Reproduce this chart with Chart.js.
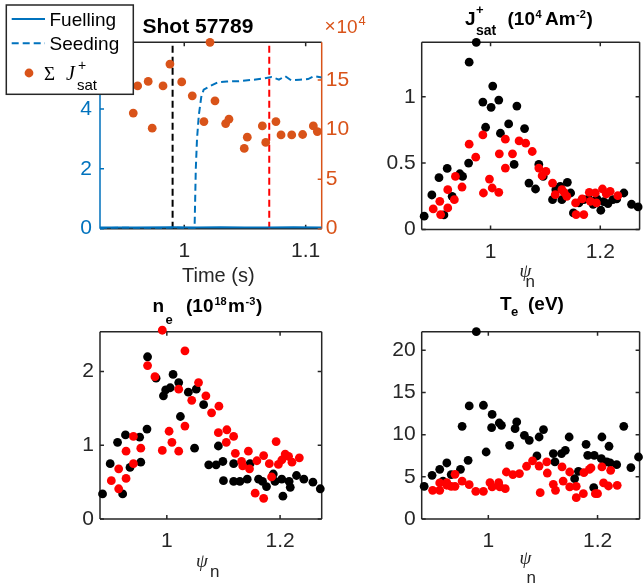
<!DOCTYPE html>
<html>
<head>
<meta charset="utf-8">
<script src="https://cdn.jsdelivr.net/npm/chart.js@4.4.1/dist/chart.umd.min.js"></script>
<style>
  body { margin: 0; background: #fff; }
  #wrap { position: relative; width: 644px; height: 585px; }
  #wrap canvas { position: absolute; left: 0; top: 0; }
</style>
</head>
<body>
<div id="wrap">
  <canvas id="c1" width="644" height="585"></canvas>
  <canvas id="c2" width="644" height="585"></canvas>
  <canvas id="c3" width="644" height="585"></canvas>
  <canvas id="c4" width="644" height="585"></canvas>
</div>
<script>
'use strict';

// ---- panel 1: shot 57789 time traces ----
const timeTicks = [1, 1.1];
const fuelTicks = [0, 2, 4, 6];
const jsumTicks = [0, 5, 10, 15];
const timeRange = [0.9306, 1.1132];
const fuelRange = [0, 6.23];
const jsumRange = [0, 18.8];

const fuelT = [0.9306, 0.96, 0.99, 1.01, 1.03, 1.05, 1.07, 1.09, 1.1132];
const fuelV = [0.04, 0.04, 0.05, 0.04, 0.05, 0.04, 0.04, 0.05, 0.04];

const seedT = [0.9306, 0.95, 0.97, 0.99, 1.0085, 1.009, 1.0095, 1.0105, 1.012, 1.014, 1.016, 1.022, 1.028,
               1.035, 1.045, 1.055, 1.065, 1.072, 1.078, 1.083, 1.088, 1.095, 1.102, 1.107, 1.1132];
const seedV = [0.02, 0.03, 0.02, 0.03, 0.02, 1.0, 2.0, 3.0, 3.8, 4.4, 4.65, 4.78, 4.9,
               4.92, 4.93, 4.97, 5.02, 5.07, 4.98, 5.1, 4.96, 4.98, 5.0, 5.1, 5.05];

// sum of Jsat, x10^4
const jsumT = [0.958, 0.9616, 0.9703, 0.9736, 0.9825, 0.9882, 0.9979, 1.0066, 1.0162, 1.0212, 1.0253, 1.0341,
               1.0368, 1.0494, 1.0519, 1.0643, 1.0671, 1.0755, 1.0797, 1.0885, 1.0975, 1.1063, 1.1096];
const jsumV = [11.66, 14.4, 14.85, 10.14, 14.4, 16.6, 14.8, 13.4, 10.8, 18.8, 12.9, 10.6,
               11.05, 8.1, 9.23, 10.37, 8.7, 10.8, 9.46, 9.46, 9.5, 10.37, 9.8];

// profile times marked on the trace (black, red)
const eventT = [0.9904, 1.0700];
const eventColors = ['#000000', '#ff0000'];

// ---- profiles vs psi_n (K = black, R = red) ----
const psiTicks = [1, 1.2];

const jsatTicks = [0, 0.5, 1];
const jsatPsiK = [0.879, 0.893, 0.906, 0.915, 0.921, 0.930, 0.944, 0.949, 0.960, 0.961, 0.974, 0.986, 0.991,
                  1.001, 1.004, 1.015, 1.018, 1.033, 1.043, 1.048, 1.062, 1.070, 1.082, 1.088, 1.096, 1.113,
                  1.119, 1.127, 1.130, 1.140, 1.146, 1.151, 1.161, 1.170, 1.179, 1.187, 1.194, 1.201, 1.206,
                  1.214, 1.223, 1.230, 1.243, 1.257, 1.269];
const jsatK    = [0.10, 0.26, 0.39, 0.11, 0.46, 0.25, 0.42, 0.40, 0.50, 1.26, 1.41, 0.96, 0.77,
                  0.92, 1.08, 0.975, 0.725, 0.795, 0.49, 0.93, 0.76, 0.35, 0.305, 0.49, 0.40, 0.225,
                  0.30, 0.325, 0.225, 0.355, 0.275, 0.125, 0.20, 0.225, 0.23, 0.19, 0.23, 0.145, 0.21,
                  0.195, 0.225, 0.23, 0.275, 0.19, 0.17];
const jsatPsiR = [0.8955, 0.9075, 0.909, 0.922, 0.922, 0.934, 0.936, 0.948, 0.961, 0.973, 0.986, 0.987, 0.998,
                  1.003, 1.015, 1.016, 1.027, 1.027, 1.040, 1.052, 1.064, 1.076, 1.088, 1.094, 1.101, 1.113,
                  1.118, 1.130, 1.134, 1.139, 1.155, 1.156, 1.167, 1.170, 1.180, 1.182, 1.191, 1.193, 1.204,
                  1.211, 1.218, 1.232];
const jsatR    = [0.155, 0.2125, 0.1125, 0.30, 0.1625, 0.225, 0.40, 0.32, 0.6425, 0.545, 0.7125, 0.275, 0.38,
                  0.3125, 0.28, 0.57, 0.68, 0.4625, 0.57, 0.6675, 0.65, 0.5875, 0.4625, 0.405, 0.4375, 0.35,
                  0.2625, 0.30, 0.28, 0.25, 0.20, 0.1125, 0.23, 0.1125, 0.28, 0.2125, 0.275, 0.20, 0.305,
                  0.2675, 0.2875, 0.255];

const neTicks = [0, 1, 2];
const nePsiK = [0.8865, 0.900, 0.913, 0.922, 0.927, 0.935, 0.952, 0.954, 0.965, 0.966, 0.981, 0.994, 0.998,
                1.006, 1.011, 1.021, 1.024, 1.038, 1.049, 1.052, 1.065, 1.074, 1.087, 1.091, 1.099, 1.100,
                1.118, 1.118, 1.129, 1.142, 1.147, 1.162, 1.169, 1.176, 1.188, 1.191, 1.203, 1.205, 1.216,
                1.218, 1.229, 1.242, 1.258, 1.271];
const neK    = [0.34, 0.75, 1.04, 0.34, 1.14, 0.70, 1.11, 0.77, 1.22, 2.20, 1.91, 1.67, 1.75,
                1.78, 1.96, 1.85, 1.39, 1.72, 0.96, 1.76, 1.55, 0.735, 0.735, 0.99, 0.78, 0.52,
                0.75, 0.51, 0.51, 0.54, 0.75, 0.54, 0.51, 0.44, 0.61, 0.51, 0.54, 0.31, 0.51,
                0.43, 0.59, 0.54, 0.50, 0.41];
const nePsiR = [0.902, 0.915, 0.915, 0.928, 0.928, 0.941, 0.941, 0.954, 0.966, 0.979, 0.992, 0.992, 1.004,
                1.009, 1.021, 1.021, 1.032, 1.032, 1.044, 1.056, 1.069, 1.079, 1.092, 1.091, 1.105, 1.106,
                1.118, 1.121, 1.132, 1.134, 1.144, 1.146, 1.156, 1.159, 1.171, 1.171, 1.181, 1.185, 1.193,
                1.197, 1.203, 1.209, 1.215, 1.221, 1.234];
const neR    = [0.52, 0.68, 0.41, 0.55, 0.92, 1.12, 0.75, 0.96, 2.08, 1.93, 2.56, 0.93, 1.19,
                1.04, 1.76, 0.92, 1.26, 2.28, 1.61, 1.85, 1.67, 1.44, 1.53, 1.17, 1.04, 1.21,
                1.12, 0.89, 0.78, 0.72, 0.92, 0.68, 0.35, 0.79, 0.28, 0.86, 0.75, 0.57, 1.05,
                0.74, 0.80, 0.88, 0.85, 0.77, 0.83];

const teTicks = [0, 5, 10, 15, 20];
const tePsiK = [0.8825, 0.897, 0.911, 0.917, 0.924, 0.932, 0.949, 0.952, 0.963, 0.965, 0.978, 0.991, 0.996,
                1.006, 1.007, 1.020, 1.024, 1.039, 1.049, 1.052, 1.066, 1.075, 1.089, 1.093, 1.101, 1.119,
                1.122, 1.134, 1.141, 1.148, 1.158, 1.165, 1.179, 1.182, 1.193, 1.194, 1.207, 1.208, 1.217,
                1.221, 1.223, 1.235, 1.248, 1.261, 1.275];
const teK    = [3.87, 5.18, 5.89, 4.5, 6.64, 5.26, 5.89, 10.99, 6.96, 13.4, 22.2, 13.48, 7.94,
                10.83, 12.4, 11.38, 11.1, 8.73, 10.71, 11.5, 9.92, 9.33, 7.47, 9.72, 10.6, 7.75,
                6.76, 7.75, 8.14, 9.72, 4.78, 5.65, 8.85, 7.55, 3.72, 7.55, 7.15, 9.72, 6.76,
                8.62, 6.64, 6.44, 10.99, 6.09, 7.35];
const tePsiR = [0.898, 0.911, 0.911, 0.924, 0.924, 0.932, 0.939, 0.939, 0.952, 0.965, 0.977, 0.991, 1.003,
                1.007, 1.019, 1.021, 1.033, 1.031, 1.045, 1.057, 1.070, 1.081, 1.093, 1.095, 1.107, 1.108,
                1.119, 1.123, 1.135, 1.137, 1.149, 1.149, 1.161, 1.161, 1.174, 1.175, 1.185, 1.188, 1.196,
                1.200, 1.208, 1.211, 1.220, 1.224, 1.236];
const teR    = [3.4, 4.27, 3.4, 4.3, 4.0, 3.87, 5.3, 3.87, 4.5, 4.07, 3.28, 3.28, 4.3,
                3.8, 4.3, 3.8, 5.57, 3.6, 5.26, 5.38, 6.25, 6.88, 6.28, 3.12, 6.76, 5.45,
                4.11, 3.4, 6.17, 4.5, 3.8, 5.57, 3.87, 2.53, 3.0, 5.49, 5.89, 6.05, 3.0,
                3.0, 6.17, 4.27, 3.91, 5.77, 3.99];

// ---- styling ----
const INK = '#262626';
const BLUE = '#0072BD';
const ORANGE = '#D95319';
const SANS = "'Liberation Sans', Arial, sans-serif";
const SERIF = "'Liberation Serif', 'Times New Roman', serif";
const YW = 60, YW2 = 40, XH = 50, TICK = 4;
const TICK_FONT = 21;

Chart.defaults.font.family = SANS;
Chart.defaults.color = INK;
Chart.defaults.animation = false;
Chart.defaults.events = [];
Chart.defaults.plugins.legend.display = false;
Chart.defaults.plugins.tooltip.enabled = false;

const pts = (xs, ys) => xs.map((x, i) => ({x: x, y: ys[i]}));

// matlab style box with inward ticks on all four sides
const boxPlugin = {
  id: 'mbox',
  beforeDatasetsDraw(chart, args, o) {
    const {ctx, chartArea: a} = chart;
    ctx.save();
    ctx.lineWidth = 1.5;
    ['bottom', 'top', 'left', 'right'].forEach(side => {
      const [id, color] = o.sides[side];
      const s = chart.scales[id];
      const horiz = side === 'bottom' || side === 'top';
      const edge = a[side];
      const dir = (side === 'bottom' || side === 'right') ? -1 : 1;
      ctx.strokeStyle = color;
      ctx.beginPath();
      if (horiz) { ctx.moveTo(a.left, edge); ctx.lineTo(a.right, edge); }
      else { ctx.moveTo(edge, a.top); ctx.lineTo(edge, a.bottom); }
      s.ticks.forEach(t => {
        const p = s.getPixelForValue(t.value);
        if (horiz) { ctx.moveTo(p, edge); ctx.lineTo(p, edge + dir * TICK); }
        else { ctx.moveTo(edge, p); ctx.lineTo(edge + dir * TICK, p); }
      });
      ctx.stroke();
    });
    ctx.restore();
  }
};

// legend box for the time-trace panel
const legendPlugin = {
  id: 'mlegend',
  afterDraw(chart, args, o) {
    if (!o.box) return;
    const ctx = chart.ctx, b = o.box;
    ctx.save();
    ctx.fillStyle = '#fff';
    ctx.fillRect(b.x, b.y, b.w, b.h);
    ctx.lineWidth = 1.5;
    ctx.strokeStyle = INK;
    ctx.strokeRect(b.x, b.y, b.w, b.h);
    o.rows.forEach(r => {
      const ds = chart.data.datasets[r.dataset];
      if (ds.showLine) {
        ctx.setLineDash(ds.borderDash || []);
        ctx.strokeStyle = ds.borderColor;
        ctx.lineWidth = ds.borderWidth;
        ctx.beginPath();
        ctx.moveTo(r.x0, r.y);
        ctx.lineTo(r.x1, r.y);
        ctx.stroke();
        ctx.setLineDash([]);
      } else {
        ctx.fillStyle = ds.backgroundColor;
        ctx.beginPath();
        ctx.arc((r.x0 + r.x1) / 2, r.y, ds.pointRadius, 0, Math.PI * 2);
        ctx.fill();
      }
    });
    ctx.restore();
  }
};

// titles / labels with sub- and superscripts
const notesPlugin = {
  id: 'mnotes',
  afterDraw(chart, args, o) {
    const ctx = chart.ctx;
    (o.items || []).forEach(n => {
      ctx.save();
      ctx.font = n.f;
      ctx.fillStyle = n.c || '#000';
      ctx.textAlign = 'left';
      ctx.textBaseline = 'alphabetic';
      ctx.fillText(n.t, n.x, n.y);
      ctx.restore();
    });
  }
};

function axis(range, ticks, o) {
  return {
    type: 'linear',
    position: o.position,
    min: range[0],
    max: range[1],
    grid: {display: false, drawTicks: false},
    border: {display: false},
    afterBuildTicks: s => { s.ticks = ticks.map(v => ({value: v})); },
    afterFit: s => { if (o.horiz) s.height = XH; else s.width = o.w || YW; },
    ticks: {
      autoSkip: false, maxRotation: 0, padding: o.pad,
      color: o.color || INK, font: {size: TICK_FONT},
      callback: v => String(v)
    }
  };
}

function place(a, w2) {
  return {padding: {left: a.l - YW, top: a.t, right: 644 - a.r - (w2 || 0), bottom: 585 - a.b - XH}};
}

const bold = s => `bold ${s}px ${SANS}`;
const sans = s => `${s}px ${SANS}`;
const psiFont = `italic 19px ${SERIF}`;
const plainBox = {bottom: ['x', INK], top: ['x', INK], left: ['y', INK], right: ['y', INK]};

function profile(id, area, xRange, yRange, yTicks, psiK, valK, psiR, valR, notes) {
  new Chart(document.getElementById(id), {
    type: 'scatter',
    data: {
      datasets: [
        {data: pts(psiR, valR), backgroundColor: '#ff0000', pointRadius: 4.4, borderWidth: 0, clip: false, order: 0},
        {data: pts(psiK, valK), backgroundColor: '#000000', pointRadius: 4.4, borderWidth: 0, clip: false, order: 1}
      ]
    },
    options: {
      responsive: false,
      layout: place(area),
      scales: {
        x: axis(xRange, psiTicks, {horiz: true, position: 'bottom', pad: 10}),
        y: axis(yRange, yTicks, {position: 'left', pad: 6})
      },
      plugins: {mbox: {sides: plainBox}, mnotes: {items: notes}}
    },
    plugins: [boxPlugin, notesPlugin]
  });
}

// panel 1
new Chart(document.getElementById('c1'), {
  type: 'scatter',
  data: {
    datasets: [
      {label: 'Fuelling', data: pts(fuelT, fuelV), showLine: true, borderColor: BLUE, borderWidth: 2,
       pointRadius: 0, yAxisID: 'y', order: 1},
      {label: 'Seeding', data: pts(seedT, seedV), showLine: true, borderColor: BLUE, borderWidth: 2,
       borderDash: [7, 4], pointRadius: 0, yAxisID: 'y', order: 2},
      {label: 'Sum Jsat', data: pts(jsumT, jsumV), backgroundColor: ORANGE, pointRadius: 4.4, borderWidth: 0,
       yAxisID: 'y2', clip: false, order: 0}
    ].concat(eventT.map((t, i) => ({
      data: [{x: t, y: fuelRange[0]}, {x: t, y: fuelRange[1]}], showLine: true, borderColor: eventColors[i],
      borderWidth: 2, borderDash: [7, 4], pointRadius: 0, yAxisID: 'y', order: 3
    })))
  },
  options: {
    responsive: false,
    layout: place({l: 100, r: 321.7, t: 42.3, b: 228.7}, YW2),
    scales: {
      x: axis(timeRange, timeTicks, {horiz: true, position: 'bottom', pad: 10}),
      y: axis(fuelRange, fuelTicks, {position: 'left', pad: 8, color: BLUE}),
      y2: axis(jsumRange, jsumTicks, {position: 'right', pad: 4, color: ORANGE, w: YW2})
    },
    plugins: {
      mbox: {sides: {bottom: ['x', INK], top: ['x', INK], left: ['y', BLUE], right: ['y2', ORANGE]}},
      mlegend: {
        box: {x: 6.3, y: 5, w: 127, h: 89.3},
        rows: [
          {dataset: 0, x0: 11.7, x1: 45, y: 19},
          {dataset: 1, x0: 11.7, x1: 45, y: 43.3},
          {dataset: 2, x0: 25, x1: 33, y: 73}
        ]
      },
      mnotes: {items: [
        {t: 'Shot 57789', x: 142.5, y: 33, f: bold(21), c: '#000'},
        {t: '\u00d7', x: 324.5, y: 32, f: sans(19), c: ORANGE},
        {t: '10', x: 336.5, y: 33, f: sans(19), c: ORANGE},
        {t: '4', x: 358.5, y: 25, f: sans(13), c: ORANGE},
        {t: 'Time (s)', x: 182, y: 282, f: sans(20), c: INK},
        {t: 'Fuelling', x: 49.5, y: 26, f: sans(19)},
        {t: 'Seeding', x: 49.5, y: 50, f: sans(19)},
        {t: '\u03a3', x: 44, y: 80, f: `19px ${SERIF}`},
        {t: 'J', x: 66, y: 80, f: `italic 20px ${SERIF}`},
        {t: '+', x: 78, y: 70, f: sans(14)},
        {t: 'sat', x: 77, y: 90, f: sans(15)}
      ]}
    }
  },
  plugins: [boxPlugin, legendPlugin, notesPlugin]
});

// panel 2: Jsat
profile('c2', {l: 421.7, r: 643, t: 42.3, b: 229.5}, [0.8745, 1.2717], [0, 1.41], jsatTicks,
  jsatPsiK, jsatK, jsatPsiR, jsatR, [
    {t: 'J', x: 465, y: 25, f: bold(19)},
    {t: '+', x: 476, y: 14, f: bold(13)},
    {t: 'sat', x: 476, y: 35, f: bold(14)},
    {t: '(10', x: 507.5, y: 25, f: bold(19)},
    {t: '4', x: 535.5, y: 18, f: bold(11)},
    {t: 'Am', x: 545, y: 25, f: bold(19)},
    {t: '-2', x: 576, y: 18, f: bold(11)},
    {t: ')', x: 586.5, y: 25, f: bold(19)},
    {t: '\u03c8', x: 519.5, y: 277, f: psiFont, c: INK},
    {t: 'n', x: 525.5, y: 287, f: sans(17), c: INK}
  ]);

// panel 3: ne
profile('c3', {l: 100, r: 321.7, t: 331.7, b: 519}, [0.882, 1.2735], [0, 2.54], neTicks,
  nePsiK, neK, nePsiR, neR, [
    {t: 'n', x: 152.5, y: 312, f: bold(19)},
    {t: 'e', x: 165.5, y: 323.5, f: bold(13)},
    {t: '(10', x: 186, y: 312, f: bold(19)},
    {t: '18', x: 214.5, y: 305, f: bold(11)},
    {t: 'm', x: 228, y: 312, f: bold(19)},
    {t: '-3', x: 245.5, y: 305, f: bold(11)},
    {t: ')', x: 256, y: 312, f: bold(19)},
    {t: '\u03c8', x: 196, y: 567, f: psiFont, c: INK},
    {t: 'n', x: 210, y: 576.5, f: sans(17), c: INK}
  ]);

// panel 4: Te
profile('c4', {l: 421.7, r: 643, t: 331.7, b: 519}, [0.878, 1.277], [0, 22.2], teTicks,
  tePsiK, teK, tePsiR, teR, [
    {t: 'T', x: 500, y: 309.5, f: bold(19)},
    {t: 'e', x: 511, y: 315.5, f: bold(13)},
    {t: '(eV)', x: 528, y: 309.5, f: bold(19)},
    {t: '\u03c8', x: 519.5, y: 563.5, f: psiFont, c: INK},
    {t: 'n', x: 526.5, y: 583.3, f: sans(17), c: INK}
  ]);
</script>
</body>
</html>
